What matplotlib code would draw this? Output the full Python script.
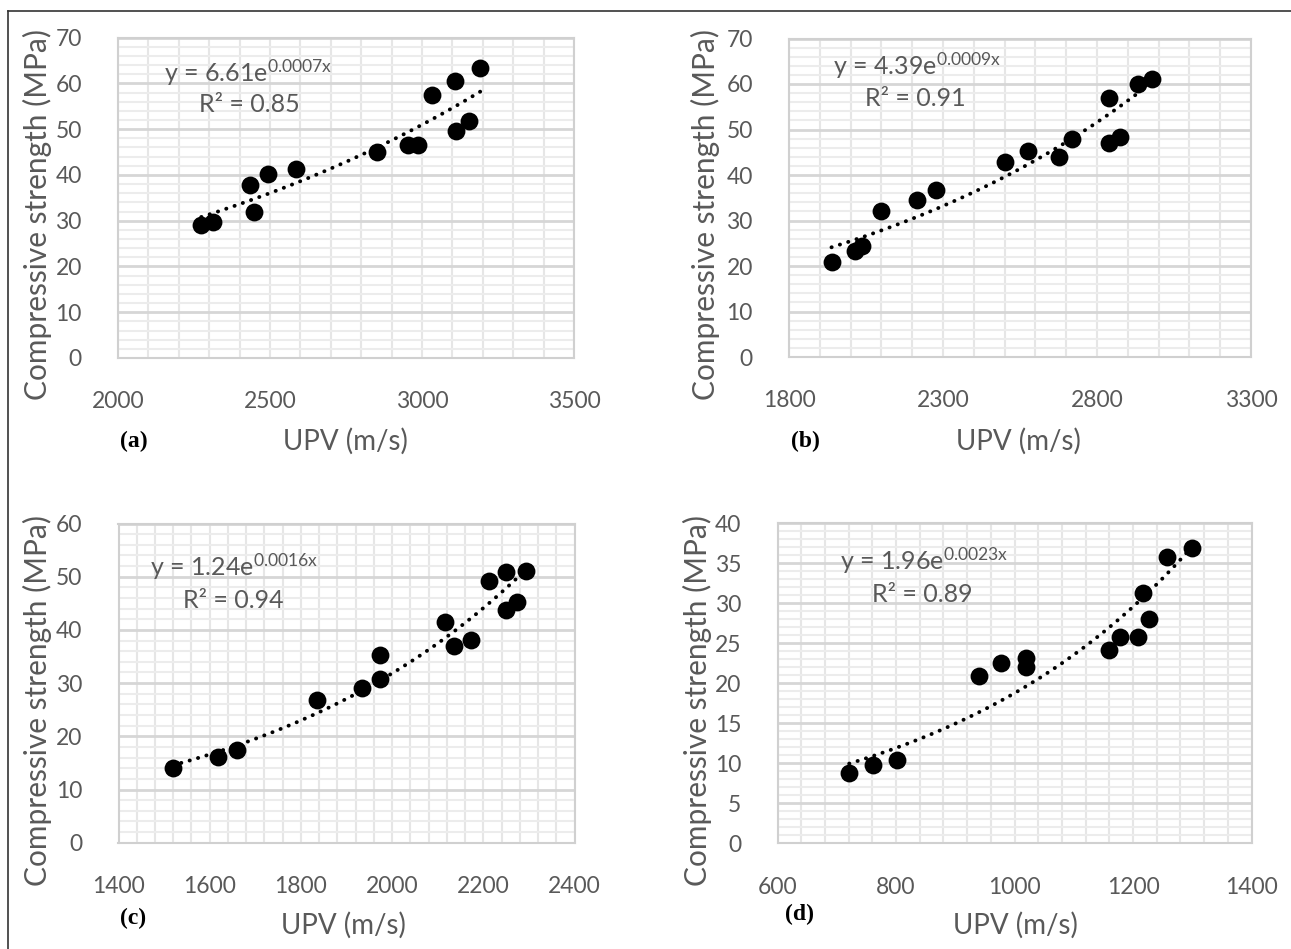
import numpy as np
import matplotlib
matplotlib.use("Agg")
import matplotlib.pyplot as plt
from matplotlib.ticker import MultipleLocator, FixedLocator
from matplotlib.lines import Line2D

plt.rcParams['font.family'] = ['Lato', 'DejaVu Sans']
plt.rcParams['mathtext.fontset'] = 'custom'
plt.rcParams['mathtext.rm'] = 'Lato'
plt.rcParams['mathtext.it'] = 'Lato:italic'

# ---------------- data ----------------
upv_a = [2274, 2314, 2435, 2449, 2493, 2585, 2852, 2955, 2986, 3034, 3110, 3112, 3155, 3192]
fc_a = [29.0, 29.8, 37.9, 32.0, 40.2, 41.2, 45.0, 46.5, 46.5, 57.5, 60.6, 49.6, 51.8, 63.4]

upv_b = [1938, 2013, 2038, 2100, 2217, 2278, 2500, 2576, 2678, 2719, 2838, 2838, 2875, 2932, 2979]
fc_b = [20.8, 23.2, 24.5, 32.1, 34.5, 36.6, 42.9, 45.3, 44.0, 47.9, 57.0, 47.1, 48.3, 60.0, 61.2]

upv_c = [1519, 1619, 1659, 1836, 1933, 1973, 1973, 2115, 2136, 2172, 2212, 2250, 2294, 2250, 2273]
fc_c = [14.1, 16.1, 17.4, 26.9, 29.0, 30.8, 35.3, 41.5, 37.0, 38.1, 49.1, 50.9, 51.1, 43.7, 45.3]

upv_d = [721, 761, 801, 940, 977, 1020, 1020, 1160, 1178, 1208, 1227, 1217, 1257, 1300]
fc_d = [8.8, 9.8, 10.4, 20.9, 22.6, 23.2, 22.0, 24.2, 25.75, 25.75, 28.1, 31.25, 35.8, 36.9]

xticks_a = [2000, 2500, 3000, 3500]
xticks_b = [1800, 2300, 2800, 3300]
xticks_c = [1400, 1600, 1800, 2000, 2200, 2400]
xticks_d = [600, 800, 1000, 1200, 1400]

eq_a, r2_a = ("6.61", "0.0007x"), "0.85"
eq_b, r2_b = ("4.39", "0.0009x"), "0.91"
eq_c, r2_c = ("1.24", "0.0016x"), "0.94"
eq_d, r2_d = ("1.96", "0.0023x"), "0.89"

panel_tags = ["(a)", "(b)", "(c)", "(d)"]
xlabel = "UPV (m/s)"
ylabel = "Compressive strength (MPa)"

W, H = 1291, 949
fig = plt.figure(figsize=(W / 100, H / 100), dpi=100)

TXT = '#595959'

def add_ax(l, r, t, b):
    return fig.add_axes([l / W, 1 - b / H, (r - l) / W, (b - t) / H])

def fpos(x, y):
    return x / W, 1 - y / H

panels = [
    dict(x=upv_a, y=fc_a, box=(118, 574, 37.6, 358), xticks=xticks_a, xmin=100,
         ylim=(0, 70), ymaj=10, ymin=2, eq=eq_a, r2=r2_a, eqp=(164, 73), r2p=(199, 105),
         tag=(134, 441), xl=(345, 441), yl=(37, 215)),
    dict(x=upv_b, y=fc_b, box=(789, 1251, 38.5, 357), xticks=xticks_b, xmin=100,
         ylim=(0, 70), ymaj=10, ymin=2, eq=eq_b, r2=r2_b, eqp=(833, 66), r2p=(865, 98),
         tag=(805, 441), xl=(1018, 441), yl=(705, 215)),
    dict(x=upv_c, y=fc_c, box=(118.5, 574.5, 523.5, 842.7), xticks=xticks_c, xmin=40,
         ylim=(0, 60), ymaj=10, ymin=2, eq=eq_c, r2=r2_c, eqp=(150, 567), r2p=(183, 601),
         tag=(133, 918), xl=(343, 925), yl=(37, 700)),
    dict(x=upv_d, y=fc_d, box=(777.5, 1251.5, 523.3, 843.3), xticks=xticks_d, xmin=40,
         ylim=(0, 40), ymaj=5, ymin=1, eq=eq_d, r2=r2_d, eqp=(840, 561), r2p=(872, 594),
         tag=(800, 914), xl=(1015, 925), yl=(697, 700)),
]

for i, p in enumerate(panels):
    ax = add_ax(*p['box'])
    xt = p['xticks']
    ax.set_xlim(xt[0], xt[-1])
    ax.set_ylim(*p['ylim'])
    ax.xaxis.set_major_locator(FixedLocator(xt))
    ax.xaxis.set_minor_locator(MultipleLocator(p['xmin']))
    ax.yaxis.set_major_locator(MultipleLocator(p['ymaj']))
    ax.yaxis.set_minor_locator(MultipleLocator(p['ymin']))
    ax.grid(which='major', axis='y', color='#d6d6d6', lw=2.0, zorder=0)
    ax.grid(which='minor', axis='y', color='#ececec', lw=1.5, zorder=0)
    ax.grid(which='both', axis='x', color='#e6e6e6', lw=1.5, zorder=0)
    ax.set_axisbelow(True)
    for s in ax.spines.values():
        s.set_color('#d0d0d0')
        s.set_linewidth(1.5)
    ax.tick_params(which='both', length=0)
    ax.tick_params(axis='y', pad=26, labelsize=16.5, labelcolor=TXT)
    ax.tick_params(axis='x', pad=24, labelsize=16.5, labelcolor=TXT)

    xs = np.array(p['x'], float)
    ys = np.array(p['y'], float)
    ax.scatter(xs, ys, s=165, color='black', zorder=3, linewidths=0)
    # Excel-style exponential trendline (least squares on ln y)
    k, lna = np.polyfit(xs, np.log(ys), 1)
    xx = np.linspace(xs.min(), xs.max(), 200)
    ax.plot(xx, np.exp(lna) * np.exp(k * xx), color='black', lw=2.8,
            ls=(0, (0.05, 2.2)), dash_capstyle='round', zorder=2)

    a, e = p['eq']
    fig.text(*fpos(*p['eqp']), r'y = %s$\mathrm{e}^{\mathrm{%s}}$' % (a, e), fontsize=18,
             color=TXT, ha='left', va='center')
    fig.text(*fpos(*p['r2p']), 'R² = %s' % p['r2'], fontsize=18,
             color=TXT, ha='left', va='center')

    fig.text(*fpos(*p['tag']), panel_tags[i], fontsize=17, fontweight='bold',
             family=['Liberation Serif'], color='black', ha='center', va='center')
    fig.text(*fpos(*p['xl']), xlabel, fontsize=20, color=TXT, ha='center', va='center')
    fig.text(*fpos(*p['yl']), ylabel, fontsize=21.5, color=TXT, ha='center', va='center',
             rotation=90)

# outer frame (left and top edges)
fig.add_artist(Line2D([8 / W, 8 / W], [0, 1 - 11 / H], color='#333333', lw=1.2))
fig.add_artist(Line2D([8 / W, 1], [1 - 11 / H, 1 - 11 / H], color='#333333', lw=1.2))

fig.savefig('out.png', dpi=100, facecolor='white')
